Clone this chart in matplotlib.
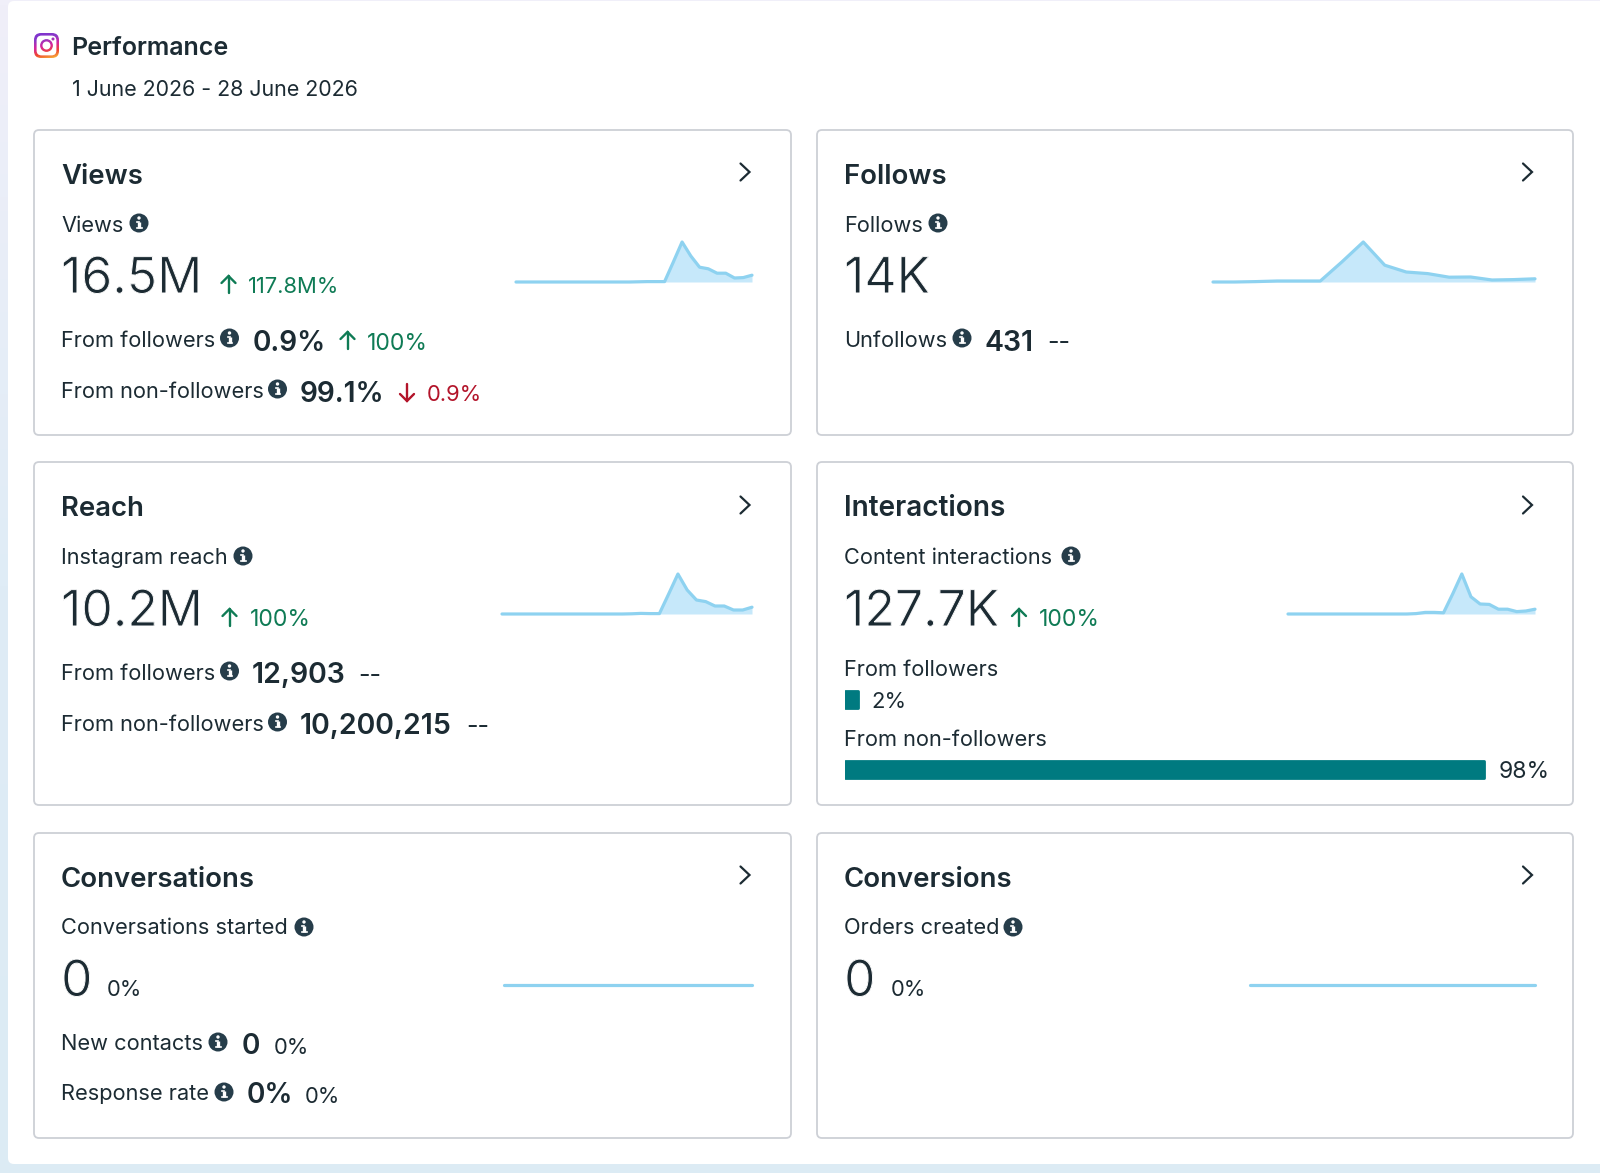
import numpy as np
import matplotlib
matplotlib.use("Agg")
import matplotlib.pyplot as plt
import matplotlib.patheffects as pe
from matplotlib.patches import FancyBboxPatch, Circle
from matplotlib.colors import LinearSegmentedColormap

plt.rcParams['font.family'] = ['Inter', 'DejaVu Sans']

# ---------- data ----------
views_trend = [0,0,0,0,0,0,0,0,0,0,0,0,0,0,0.5,1,1,1,50,100,65,37,33,22,22,10,11,17]
follows_trend = [0,0,1,2.5,2.5,2.5,50,100,42,25,21,12,12.5,5,6,8]
reach_trend = [0,0,0,0,0,0,0,0,0,0,0,0,0,0,0.5,1.5,1,1,50,100,60,35,31,20,20,10,10,17]
interactions_trend = [0,0,0,0,0,0,0,0,0,0,0,0,0,0,1,4,4,3,50,100,43,25,24,12,12,6,7.5,12]
conversations_trend = [0] * 28
conversions_trend = [0] * 28
share_labels = ["From followers", "From non-followers"]
share_values = [2, 98]

INK = '#1c2b33'
GREEN = '#0f7b55'
RED = '#b3142a'
TEAL = '#007a80'
LINE = '#8ed2f0'
FILL = '#c6e8fa'
W, H = 1600, 1173
LBL = 21.8
BIG = 50

fig = plt.figure(figsize=(W / 100, H / 100), dpi=100, facecolor='white')
ax = fig.add_axes([0, 0, 1, 1], zorder=0)
ax.set_axis_off()

# ---------- page background ----------
bg = LinearSegmentedColormap.from_list('bg', ['#f0eff9', '#dfecf6', '#dcebf4'])
ax.imshow(np.linspace(0, 1, 256).reshape(-1, 1), cmap=bg, extent=[0, W, H, 0], aspect='auto', zorder=0)
ax.add_patch(FancyBboxPatch((8, 1), W + 40, 1163, boxstyle="round,pad=0,rounding_size=6",
                            fc='white', ec='none', zorder=1))
ax.set_xlim(0, W)
ax.set_ylim(H, 0)


def T(x, y, s, px=LBL, weight='normal', color=INK):
    return ax.text(x, y, s, fontsize=px * 0.72, fontweight=weight, color=color, va='baseline', ha='left', zorder=5)


def BIGT(x, y, s):
    # large headline figure: thinned slightly to match the reference's lighter stroke
    t = T(x, y, s, BIG)
    t.set_path_effects([pe.Normal(), pe.Stroke(linewidth=0.7, foreground='white')])


def card(x0, y0, x1, y1):
    ax.add_patch(FancyBboxPatch((x0, y0), x1 - x0, y1 - y0, boxstyle="round,pad=0,rounding_size=5",
                                fc='white', ec='#cdd0d6', lw=1.3, zorder=2))


def info(x, y):
    ax.add_patch(Circle((x, y), 9.5, fc='#263d4a', ec='none', zorder=5))
    ax.plot([x, x], [y - 1.5, y + 5], color='white', lw=2.4, solid_capstyle='butt', zorder=6)
    ax.plot([x - 2, x], [y - 1.5, y - 1.5], color='white', lw=1.2, zorder=6)
    ax.plot([x - 2, x + 2.5], [y + 5.2, y + 5.2], color='white', lw=1.2, zorder=6)
    ax.add_patch(Circle((x, y - 5), 1.7, fc='white', ec='none', zorder=6))


def arrow(x, tail, head, color):
    d = 1 if tail > head else -1
    ax.plot([x, x], [tail, head], color=color, lw=1.7, solid_capstyle='round', zorder=5)
    ax.plot([x - 7, x, x + 7], [head + d * 7, head, head + d * 7], color=color, lw=1.7,
            solid_capstyle='round', solid_joinstyle='miter', zorder=5)


def chevron(x, y):
    ax.plot([x - 4.5, x + 4.5, x - 4.5], [y - 8.5, y, y + 8.5], color=INK, lw=1.6, solid_joinstyle='miter',
            solid_capstyle='round', zorder=5)


def spark(values, x0, x1, y_top, y_base):
    a = fig.add_axes([x0 / W, 1 - y_base / H, (x1 - x0) / W, (y_base - y_top) / H], zorder=3)
    a.set_axis_off()
    a.patch.set_alpha(0)
    xs = np.arange(len(values))
    a.fill_between(xs, 0, values, color=FILL, lw=0, clip_on=False)
    a.plot(xs, values, color=LINE, lw=2.3, clip_on=False, solid_capstyle='round')
    a.set_xlim(0, len(values) - 1)
    a.set_ylim(0, 100)


# ---------- header ----------
grad = LinearSegmentedColormap.from_list('ig', ['#f9c23c', '#f0482e', '#d6249f', '#8a3ac8', '#7a30d0'])
g = (np.linspace(0, 1, 64)[:, None] + np.linspace(0.25, 0, 64)[None, :]) / 1.25
ix0, iy0, iw = 34, 33, 25


def grad_clip(patch):
    ax.add_patch(patch)
    im = ax.imshow(g, cmap=grad, origin='lower', extent=[ix0, ix0 + iw, iy0 + iw, iy0], aspect='auto',
                   zorder=patch.get_zorder())
    im.set_clip_path(patch)


p1 = FancyBboxPatch((ix0, iy0), iw, iw, boxstyle="round,pad=0,rounding_size=7", fc='none', ec='none', zorder=3)
grad_clip(p1)
ax.add_patch(FancyBboxPatch((ix0 + 2.6, iy0 + 2.6), iw - 5.2, iw - 5.2, boxstyle="round,pad=0,rounding_size=5",
                            fc='white', ec='none', zorder=3.1))
p2 = Circle((46.5, 45.5), 6.4, fc='none', ec='none', zorder=3.2)
grad_clip(p2)
ax.add_patch(Circle((46.5, 45.5), 4, fc='white', ec='none', zorder=3.3))
p3 = Circle((53, 39), 1.5, fc='none', ec='none', zorder=3.4)
grad_clip(p3)
ax.set_xlim(0, W)
ax.set_ylim(H, 0)

T(71.5, 55, "Performance", 25, 'semibold')
T(72, 96, "1 June 2026 - 28 June 2026", 21.4)

# ---------- cards ----------
L, R = 61, 844
card(34, 130, 791, 435)
card(817, 130, 1573, 435)
card(34, 462, 791, 805)
card(817, 462, 1573, 805)
card(34, 833, 791, 1138)
card(817, 833, 1573, 1138)
for cx in (745, 1527.5):
    for cy in (172, 505, 875):
        chevron(cx, cy)

# Views
T(L, 184, "Views", 27.5, 'semibold')
T(L, 232, "Views"); info(139, 223)
BIGT(L, 293, "16.5M")
arrow(228.5, 293, 276, GREEN); T(248, 293, "117.8M%", 22, color=GREEN)
T(L, 347, "From followers"); info(229.5, 338)
T(253, 351, "0.9%", 28, 'semibold')
arrow(347.5, 349, 332, GREEN); T(367, 350, "100%", 23, color=GREEN)
T(L, 398, "From non-followers"); info(277.5, 389)
T(300, 402, "99.1%", 28, 'semibold')
arrow(407, 384, 401, RED)
T(426.5, 401, "0.9%", 22, color=RED)
spark(views_trend, 516, 752, 242, 282)

# Follows
T(R, 184, "Follows", 27.5, 'semibold')
T(R, 232, "Follows"); info(938, 223)
BIGT(R, 293, "14K")
T(R, 347, "Unfollows"); info(962, 338)
T(985, 351, "431", 28.5, 'semibold')
T(1047, 350, "--", 25)
spark(follows_trend, 1213, 1535, 242, 282)

# Reach
T(L, 516, "Reach", 27.5, 'semibold')
T(L, 564, "Instagram reach"); info(243, 556)
BIGT(L, 626, "10.2M")
arrow(229.5, 626, 609, GREEN); T(250, 626, "100%", 23, color=GREEN)
T(L, 680, "From followers"); info(229.5, 671)
T(252, 683, "12,903", 28.5, 'semibold')
T(358, 683, "--", 25)
T(L, 731, "From non-followers"); info(277.5, 722)
T(300, 734, "10,200,215", 28.5, 'semibold')
T(466, 734, "--", 25)
spark(reach_trend, 502, 752, 574, 614)

# Interactions
T(R, 516, "Interactions", 28, 'semibold')
T(R, 564, "Content interactions"); info(1071, 556)
BIGT(R, 626, "127.7K")
arrow(1019, 626, 609, GREEN); T(1039, 626, "100%", 23, color=GREEN)
spark(interactions_trend, 1288, 1535, 574, 614)
T(R, 676, share_labels[0])
T(871, 708, f"{share_values[0]}%", 22)
T(R, 746, share_labels[1])
T(1499, 778, f"{share_values[1]}%", 23)
bx0, bx1 = 844.8, 1497
bar_ax = fig.add_axes([bx0 / W, 1 - 780 / H, (bx1 - bx0) / W, 91 / H], zorder=3)
bar_ax.set_axis_off()
bar_ax.patch.set_alpha(0)
bar_ax.barh([0, 1], share_values, height=0.236, color=TEAL, edgecolor=TEAL,
            lw=2.0, joinstyle='round', zorder=3)
bar_ax.set_xlim(0, 100)
bar_ax.set_ylim(1.15, -0.15)

# Conversations
T(L, 887, "Conversations", 27.5, 'semibold')
T(L, 934, "Conversations started"); info(304, 927)
BIGT(L, 996, "0")
T(107, 996, "0%", 22)
T(L, 1050, "New contacts"); info(218, 1042)
T(242, 1054, "0", 28, 'semibold')
T(273.5, 1054, "0%", 22)
T(L, 1100, "Response rate"); info(224, 1092)
T(247, 1103, "0%", 28, 'semibold')
T(305, 1103, "0%", 22)
spark(conversations_trend, 504, 752, 944, 984.5)

# Conversions
T(R, 887, "Conversions", 27.5, 'semibold')
T(R, 934, "Orders created"); info(1013, 927)
BIGT(R, 996, "0")
T(891, 996, "0%", 22)
spark(conversions_trend, 1250, 1535, 944, 984.5)

fig.savefig('out.png', dpi=100, facecolor=fig.get_facecolor())
